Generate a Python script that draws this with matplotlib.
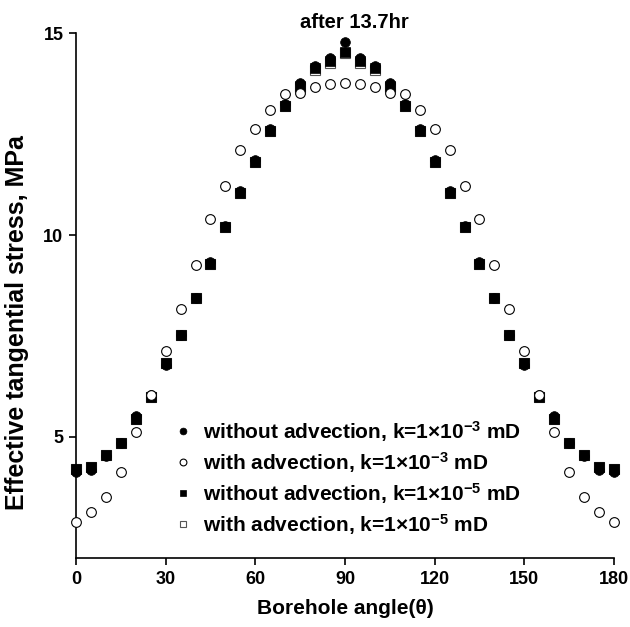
import matplotlib
matplotlib.use("Agg")
import matplotlib.pyplot as plt

plt.rcParams.update({
    "font.family": ["Liberation Sans", "DejaVu Sans"],
    "font.weight": "bold",
    "mathtext.fontset": "custom",
    "mathtext.rm": "Liberation Sans:bold",
    "mathtext.bf": "Liberation Sans:bold",
    "mathtext.default": "bf",
})

# borehole angle (deg) and effective tangential stress (MPa) after 13.7 hr
angle = [0, 5, 10, 15, 20, 25, 30, 35, 40, 45, 50, 55, 60, 65, 70, 75, 80, 85, 90,
         95, 100, 105, 110, 115, 120, 125, 130, 135, 140, 145, 150, 155, 160, 165, 170, 175, 180]
no_adv_k3 = [4.13, 4.19, 4.52, 4.85, 5.52, 6.03, 6.77, 7.53, 8.45, 9.33, 10.23, 11.10, 11.86,
             12.63, 13.25, 13.76, 14.20, 14.38, 14.79, 14.38, 14.20, 13.76, 13.25, 12.63, 11.86,
             11.10, 10.23, 9.33, 8.45, 7.53, 6.77, 6.03, 5.52, 4.85, 4.52, 4.19, 4.13]
adv_k3 = [2.90, 3.13, 3.50, 4.14, 5.11, 6.04, 7.14, 8.17, 9.27, 10.40, 11.22, 12.11, 12.62,
          13.10, 13.50, 13.51, 13.66, 13.74, 13.76, 13.74, 13.66, 13.51, 13.50, 13.10, 12.62,
          12.11, 11.22, 10.40, 9.27, 8.17, 7.14, 6.04, 5.11, 4.14, 3.50, 3.13, 2.90]
no_adv_k5 = [4.20, 4.25, 4.55, 4.85, 5.45, 6.00, 6.82, 7.53, 8.45, 9.28, 10.19, 11.05, 11.81,
             12.58, 13.20, 13.70, 14.15, 14.32, 14.54, 14.32, 14.15, 13.70, 13.20, 12.58, 11.81,
             11.05, 10.19, 9.28, 8.45, 7.53, 6.82, 6.00, 5.45, 4.85, 4.55, 4.25, 4.20]
adv_k5 = [4.20, 4.25, 4.55, 4.85, 5.45, 6.00, 6.82, 7.53, 8.45, 9.28, 10.19, 11.05, 11.81,
          12.58, 13.20, 13.68, 14.10, 14.27, 14.52, 14.27, 14.10, 13.68, 13.20, 12.58, 11.81,
          11.05, 10.19, 9.28, 8.45, 7.53, 6.82, 6.00, 5.45, 4.85, 4.55, 4.25, 4.20]

labels = ["without advection, k=1×10$^{-3}$ mD",
          "with advection, k=1×10$^{-3}$ mD",
          "without advection, k=1×10$^{-5}$ mD",
          "with advection, k=1×10$^{-5}$ mD"]

fig = plt.figure(figsize=(6.30, 6.27), dpi=100)
ax = fig.add_axes([0.1206, 0.110, 0.854, 0.837])

ms = 7.0
kw = dict(ls="none", clip_on=False, ms=ms)
h4, = ax.plot(angle, adv_k5, marker="s", mfc="white", mec="#555555", mew=0.8, zorder=2, **kw)
h3, = ax.plot(angle, no_adv_k5, marker="s", mfc="black", mec="black", mew=0.5, zorder=3, **kw)
h1, = ax.plot(angle, no_adv_k3, marker="o", mfc="black", mec="black", mew=0.5, zorder=4, **kw)
h2, = ax.plot(angle, adv_k3, marker="o", mfc="white", mec="black", mew=0.8, zorder=5, **kw)

ax.set_xlim(0, 180)
ax.set_ylim(2, 15)
ax.set_xticks(range(0, 181, 30))
ax.set_yticks([5, 10, 15])
for s in ["top", "right"]:
    ax.spines[s].set_visible(False)
for s in ["left", "bottom"]:
    ax.spines[s].set_linewidth(1.2)
ax.tick_params(direction="out", length=5, width=1.2, labelsize=13, pad=4)
for t in ax.get_xticklabels() + ax.get_yticklabels():
    t.set_fontweight("bold")

ax.set_xlabel("Borehole angle(θ)", fontsize=15, fontweight="bold", labelpad=8)
ax.set_ylabel("Effective tangential stress, MPa", fontsize=18, fontweight="bold")
ax.yaxis.set_label_coords(-0.087, 0.448)
ax.set_title("after 13.7hr", fontsize=14.5, fontweight="bold", pad=4, x=0.517)

leg = ax.legend([h1, h2, h3, h4], labels, loc="upper left", bbox_to_anchor=(0.164, 0.281),
                frameon=False, fontsize=15, markerscale=0.7, handlelength=1.0,
                handletextpad=0.47, labelspacing=0.29, borderaxespad=0)

fig.savefig("out.png", dpi=100)
